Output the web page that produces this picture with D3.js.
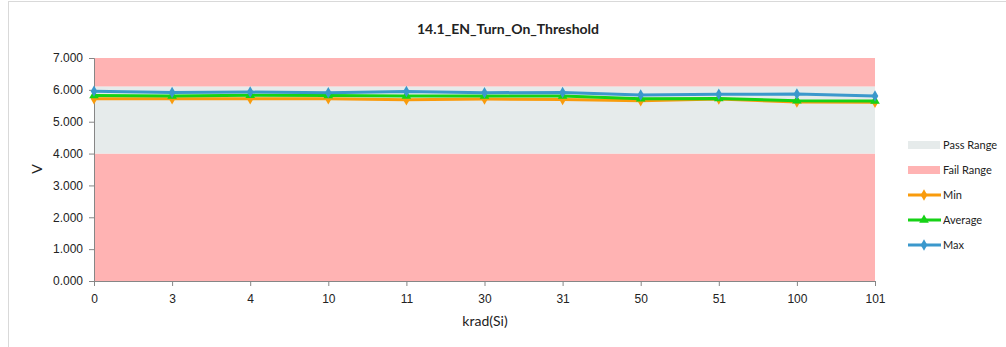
<!DOCTYPE html>
<html>
<head>
<meta charset="utf-8">
<script src="https://cdn.jsdelivr.net/npm/d3@7"></script>
<style>
  body { margin: 0; background: #fff; }
  svg { font-family: Lato, "Open Sans", sans-serif; }
</style>
</head>
<body>
<svg id="chart" width="1006" height="347"></svg>
<script>
// Chart data
const categories = ["0", "3", "4", "10", "11", "30", "31", "50", "51", "100", "101"];
const minValues = [5.72, 5.72, 5.72, 5.72, 5.69, 5.71, 5.70, 5.66, 5.71, 5.62, 5.61];
const avgValues = [5.82, 5.81, 5.83, 5.82, 5.81, 5.81, 5.81, 5.72, 5.73, 5.66, 5.65];
const maxValues = [5.96, 5.92, 5.93, 5.91, 5.95, 5.91, 5.92, 5.84, 5.86, 5.87, 5.81];
const passRange = [4.0, 6.1];
const failRanges = [[0, 4.0], [6.1, 7.0]];
const yTicks = [0, 1, 2, 3, 4, 5, 6, 7];

const svg = d3.select("#chart");

// Outer frame
svg.append("rect")
    .attr("x", 8.5).attr("y", 1.5)
    .attr("width", 1010).attr("height", 360)
    .attr("fill", "none")
    .attr("stroke", "#d9d9d9");

// Scales
const x = d3.scalePoint().domain(categories).range([94, 875]);
const y = d3.scaleLinear().domain([0, 7]).range([281, 58]);

// Fail range bands
svg.selectAll("rect.fail")
    .data(failRanges)
    .enter().append("rect")
    .attr("class", "fail")
    .attr("x", x.range()[0])
    .attr("width", x.range()[1] - x.range()[0])
    .attr("y", d => y(d[1]))
    .attr("height", d => y(d[0]) - y(d[1]))
    .attr("fill", "#ffb3b3");

// Pass range band
svg.append("rect")
    .attr("x", x.range()[0])
    .attr("width", x.range()[1] - x.range()[0])
    .attr("y", y(passRange[1]))
    .attr("height", y(passRange[0]) - y(passRange[1]))
    .attr("fill", "#e6ebeb");

// Axes
const yAxis = svg.append("g")
    .attr("transform", "translate(94,0)")
    .call(d3.axisLeft(y).tickValues(yTicks).tickFormat(d3.format(".3f")).tickSize(5).tickPadding(6));
const xAxis = svg.append("g")
    .attr("transform", "translate(0,281)")
    .call(d3.axisBottom(x).tickSize(5).tickPadding(8));
[yAxis, xAxis].forEach(a => {
    a.selectAll("path, line").attr("stroke", "#868686");
    a.selectAll("text").attr("fill", "#222").attr("font-size", 12);
});

// Series lines and markers
const series = [
    { name: "Min", values: minValues, color: "#f99b0c", marker: "diamond" },
    { name: "Average", values: avgValues, color: "#16d216", marker: "triangle" },
    { name: "Max", values: maxValues, color: "#3b98cc", marker: "diamond" }
];

const line = d3.line()
    .x((d, i) => x(categories[i]))
    .y(d => y(d));

function markerPath(type) {
    if (type == "triangle") return d3.symbol().type(d3.symbolTriangle).size(40)();
    return d3.symbol().type(d3.symbolDiamond).size(38)();
}

series.forEach(s => {
    svg.append("path")
        .datum(s.values)
        .attr("d", line)
        .attr("fill", "none")
        .attr("stroke", s.color)
        .attr("stroke-width", 3);
    svg.selectAll(null)
        .data(s.values)
        .enter().append("path")
        .attr("d", markerPath(s.marker))
        .attr("transform", (d, i) => "translate(" + x(categories[i]) + "," + y(d) + ")")
        .attr("fill", s.color);
});

// Title and axis titles
svg.append("text")
    .attr("x", 508).attr("y", 34)
    .attr("text-anchor", "middle")
    .attr("font-size", 14).attr("font-weight", "bold")
    .attr("fill", "#222")
    .text("14.1_EN_Turn_On_Threshold");
svg.append("text")
    .attr("x", 485).attr("y", 326)
    .attr("text-anchor", "middle")
    .attr("font-size", 14)
    .attr("fill", "#222")
    .text("krad(Si)");
svg.append("text")
    .attr("transform", "translate(42,169) rotate(-90)")
    .attr("text-anchor", "middle")
    .attr("font-size", 14)
    .attr("fill", "#222")
    .text("V");

// Legend
const legend = [
    { name: "Pass Range", type: "box", color: "#e6ebeb" },
    { name: "Fail Range", type: "box", color: "#ffb3b3" },
    { name: "Min", type: "line", color: "#f99b0c", marker: "diamond" },
    { name: "Average", type: "line", color: "#16d216", marker: "triangle" },
    { name: "Max", type: "line", color: "#3b98cc", marker: "diamond" }
];
const lg = svg.append("g").attr("transform", "translate(908,145)");
legend.forEach((l, i) => {
    const g = lg.append("g").attr("transform", "translate(0," + (i * 25) + ")");
    if (l.type == "box") {
        g.append("rect").attr("x", 0).attr("y", -4).attr("width", 32).attr("height", 8).attr("fill", l.color);
    } else {
        g.append("line").attr("x1", 0).attr("x2", 33).attr("y1", 0).attr("y2", 0)
            .attr("stroke", l.color).attr("stroke-width", 3);
        g.append("path").attr("d", markerPath(l.marker))
            .attr("transform", "translate(16,0)").attr("fill", l.color);
    }
    g.append("text").attr("x", 35).attr("y", 4)
        .attr("font-size", 11).attr("fill", "#222")
        .text(l.name);
});
</script>
</body>
</html>
